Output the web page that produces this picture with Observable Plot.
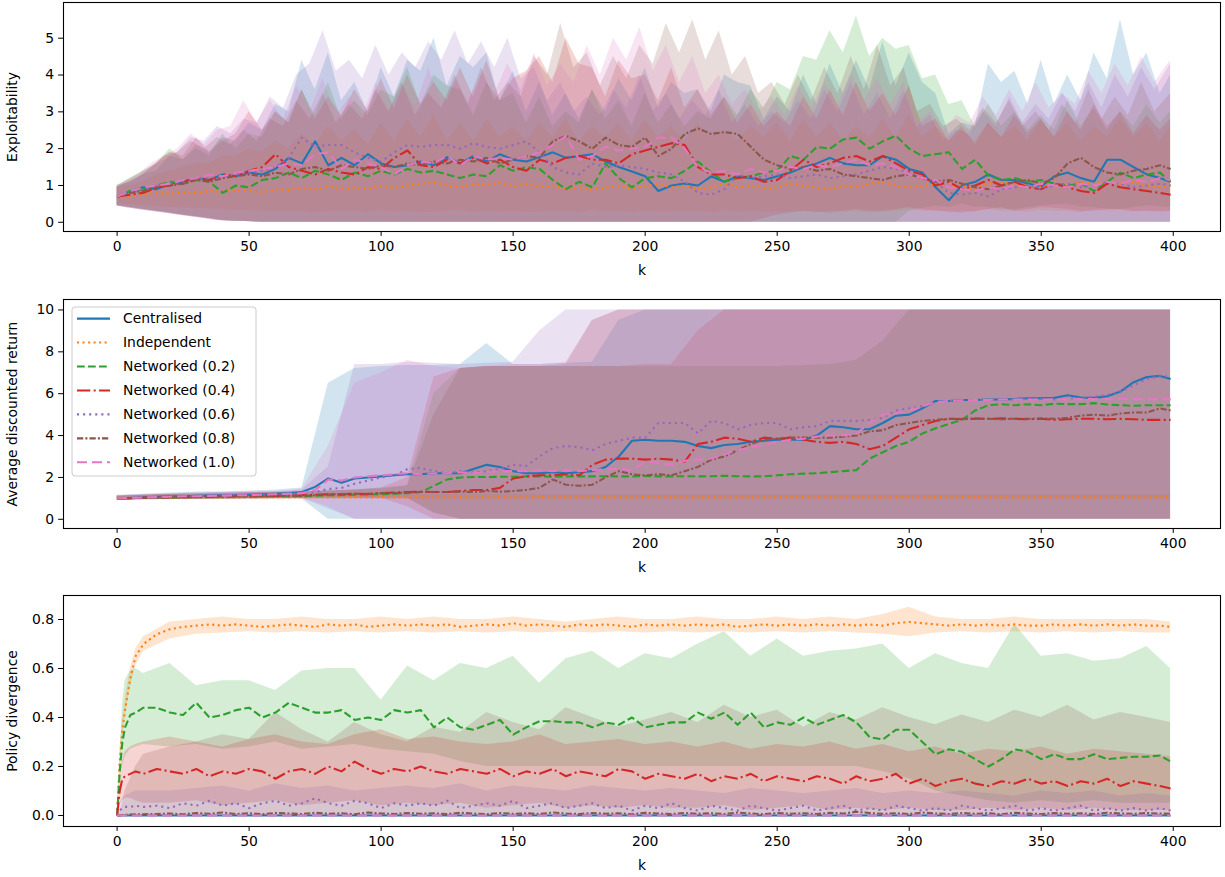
<!DOCTYPE html>
<html>
<head>
<meta charset="utf-8">
<script src="https://cdn.jsdelivr.net/npm/d3@7"></script>
<script src="https://cdn.jsdelivr.net/npm/@observablehq/plot@0.6"></script>
<style>
  html, body { margin: 0; padding: 0; background: white; }
  #wrap { position: relative; width: 1225px; height: 877px; overflow: hidden; }
  #wrap svg.plot { display: block; }
</style>
</head>
<body>
<div id="wrap"></div>
<script>
// ---------------- categories ----------------
const SERIES = ["Centralised", "Independent", "Networked (0.2)", "Networked (0.4)", "Networked (0.6)", "Networked (0.8)", "Networked (1.0)"];

// ---------------- x grids (k) ----------------
const K5 = [0,5,10,15,20,25,30,35,40,45,50,55,60,65,70,75,80,85,90,95,100,105,110,115,120,125,130,135,140,145,150,155,160,165,170,175,180,185,190,195,200,205,210,215,220,225,230,235,240,245,250,255,260,265,270,275,280,285,290,295,300,305,310,315,320,325,330,335,340,345,350,355,360,365,370,375,380,385,390,395,399];
const K5S = [0,3,8,13,18,23,28,33,38,43,48,53,58,63,68,73,78,83,88,93,98,103,108,113,118,123,128,133,138,143,148,153,158,163,168,173,178,183,188,193,198,203,208,213,218,223,228,233,238,243,248,253,258,263,268,273,278,283,288,293,298,303,308,313,318,323,328,333,338,343,348,353,358,363,368,373,378,383,388,393,399];
const K10 = [0,10,20,30,40,50,60,70,80,90,100,110,120,130,140,150,160,170,180,190,200,210,220,230,240,250,260,270,280,290,300,310,320,330,340,350,360,370,380,390,399];
const K3L = [0,1,2,3,5,7,10,15,20,25,30,35,40,45,50,55,60,65,70,75,80,85,90,95,100,105,110,115,120,125,130,135,140,145,150,155,160,165,170,175,180,185,190,195,200,205,210,215,220,225,230,235,240,245,250,255,260,265,270,275,280,285,290,295,300,305,310,315,320,325,330,335,340,345,350,355,360,365,370,375,380,385,390,395,399];
const K3B = [0,1,2,3,5,7,10,20,30,40,50,60,70,80,90,100,110,120,130,140,150,160,170,180,190,200,210,220,230,240,250,260,270,280,290,300,310,320,330,340,350,360,370,380,390,399];

// ---------------- tick labels ----------------
const X_TICKS = [0,50,100,150,200,250,300,350,400];
const Y1_TICKS = [0,1,2,3,4,5];
const Y2_TICKS = [0,2,4,6,8,10];
const Y3_TICKS = [0.0,0.2,0.4,0.6,0.8];

// ================= Panel 1: Exploitability (means on K5) =================
const P1_CENTRALISED = [.68,.85,.95,.9,1.05,1.1,1.2,1.15,1.3,1.25,
 1.35,1.3,1.45,1.75,1.6,2.2,1.55,1.75,1.55,1.85,
 1.6,1.5,1.55,1.65,1.55,1.77,1.6,1.8,1.65,1.85,
 1.7,1.65,1.77,1.9,1.75,1.8,1.85,1.65,1.5,1.38,
 1.25,.85,1.0,1.05,1.0,1.25,1.1,1.25,1.2,1.15,
 1.25,1.35,1.5,1.6,1.75,1.6,1.55,1.55,1.8,1.7,
 1.45,1.35,.95,.6,1.0,1.1,1.3,1.15,1.15,1.05,
 .97,1.25,1.35,1.2,1.1,1.7,1.7,1.5,1.3,1.2,
 1.1];
const P1_INDEPENDENT = [.68,.72,.75,.8,.78,.82,.8,.85,.83,.88,
 .85,.82,.9,.88,.95,.9,.98,.92,.95,.9,
 1.0,.93,1.0,1.05,1.1,1.0,.95,1.05,1.0,1.08,
 .98,1.05,.95,1.0,.9,.95,.88,.95,1.0,.92,
 .98,1.05,.95,1.0,.9,.95,1.05,.98,1.0,.92,
 .95,1.05,1.0,.95,.9,1.0,.95,1.05,1.1,1.0,
 .95,.98,1.05,.95,1.0,.9,1.05,1.1,1.05,1.0,
 .95,1.05,1.0,1.1,1.05,1.1,1.05,1.1,1.0,.95,
 1.0];
const P1_NET02 = [.7,.85,.9,1.0,1.1,1.05,1.15,1.1,.8,1.0,
 .95,1.15,1.2,1.35,1.2,1.4,1.3,1.15,1.35,1.25,
 1.4,1.3,1.45,1.35,1.4,1.3,1.2,1.3,1.25,1.55,
 1.4,1.5,1.45,1.15,.9,1.1,.95,1.6,1.2,.95,
 1.2,1.25,1.2,1.4,1.65,1.35,1.1,1.2,1.25,1.35,
 1.4,1.8,1.7,2.05,2.0,2.25,2.3,2.0,2.2,2.35,
 2.0,1.8,1.85,1.9,1.45,1.7,1.27,1.15,1.2,1.1,
 1.15,1.05,1.0,1.05,.85,1.1,1.35,1.2,1.3,1.35,
 1.1];
const P1_NET04 = [.7,.75,.8,.95,1.0,1.1,1.2,1.15,1.3,1.25,
 1.4,1.5,1.85,1.5,1.4,1.3,1.45,1.35,1.3,1.5,
 1.45,1.75,1.95,1.55,1.5,1.7,1.6,1.75,1.6,1.7,
 1.5,1.4,1.7,1.6,1.75,1.8,1.7,1.7,1.6,1.85,
 1.95,2.05,2.15,2.1,1.5,1.3,1.3,1.2,1.25,1.1,
 1.15,1.4,1.7,1.5,1.6,1.75,1.8,1.65,1.8,1.6,
 1.4,1.3,1.0,1.1,.9,1.0,1.15,1.0,1.1,.95,
 .9,1.05,.95,.85,.8,1.05,.95,.9,.85,.8,
 .75];
const P1_NET06 = [.7,.8,.9,1.0,1.05,1.1,1.15,1.2,1.25,1.3,
 1.35,1.4,1.5,1.75,2.3,2.05,2.1,2.1,1.9,1.75,
 1.65,1.9,2.1,2.05,2.1,2.1,2.0,2.15,2.05,2.0,
 2.1,2.2,1.9,1.5,1.35,1.3,1.6,1.5,1.55,1.5,
 1.45,1.35,1.3,1.1,.8,.75,.9,1.3,1.2,1.25,
 1.3,1.2,1.25,1.3,1.2,1.25,1.3,1.4,1.5,1.45,
 1.35,1.2,1.1,.8,.75,.8,.7,.9,.95,1.0,
 .9,1.0,1.05,.95,1.0,1.1,1.05,.95,1.0,1.05,
 1.0];
const P1_NET08 = [.7,.8,.85,.95,1.0,1.05,1.15,1.1,1.2,1.25,
 1.3,1.25,1.35,1.3,1.45,1.5,1.4,1.55,1.5,1.45,
 1.55,1.5,1.6,1.55,1.65,1.6,1.7,1.65,1.75,1.6,
 1.7,1.8,1.75,2.2,2.35,2.2,2.0,2.3,2.1,2.05,
 2.3,1.8,2.0,2.4,2.55,2.4,2.45,2.4,2.05,1.7,
 1.55,1.45,1.5,1.4,1.45,1.3,1.25,1.2,1.15,1.25,
 1.3,1.2,1.1,1.15,1.05,.95,.9,1.0,1.1,1.15,
 1.05,1.2,1.6,1.75,1.5,1.35,1.3,1.4,1.45,1.55,
 1.45];
const P1_NET10 = [.7,.85,.95,1.0,1.05,1.15,1.2,1.3,1.25,1.35,
 1.4,1.45,1.5,1.6,1.55,1.85,1.9,1.45,1.7,1.6,
 1.5,1.3,1.55,1.65,1.6,1.8,1.55,1.8,1.7,1.75,
 1.7,1.8,1.9,2.1,2.35,1.7,1.8,2.05,1.95,2.0,
 2.05,2.3,2.3,2.0,1.5,1.35,1.4,1.3,1.45,1.35,
 1.4,1.5,1.45,1.55,1.5,1.6,1.7,1.55,1.6,1.5,
 1.3,1.2,1.15,.95,.9,.85,.95,.9,1.0,.95,
 1.05,1.0,.95,1.05,1.0,1.1,1.05,1.15,1.1,1.2,
 1.15];

// Panel 1 bands (blue/orange/green/red on K5; purple/brown/pink on K5S)
const P1_HI_CENTRALISED = [1.0,1.1,1.3,1.4,1.8,1.7,2.1,1.9,2.3,2.2,
 2.7,2.5,3.2,3.0,4.4,3.6,4.6,3.3,3.8,3.0,
 4.2,3.4,4.4,4.1,5.0,3.7,4.5,4.2,4.6,3.3,
 4.1,3.0,3.8,2.9,3.5,2.8,3.6,3.0,3.9,3.3,
 4.2,3.1,3.8,3.5,3.6,3.0,4.0,3.8,3.7,2.8,
 3.4,3.0,4.0,3.2,4.3,3.5,4.4,3.6,4.9,3.7,
 4.6,3.8,3.5,2.4,2.7,2.6,4.3,3.8,4.1,3.2,
 4.4,3.2,4.0,3.3,4.6,3.9,5.5,4.0,4.6,3.5,
 4.0];
const P1_HI_INDEPENDENT = [0.95,1.0,1.1,1.3,1.4,1.5,1.6,1.6,1.8,1.8,
 2.0,1.9,2.2,2.0,2.4,2.1,2.6,2.2,2.5,2.1,
 2.7,2.2,2.8,2.3,2.9,2.2,2.7,2.2,2.8,2.3,
 2.6,2.2,2.7,2.3,2.8,2.2,2.6,2.3,2.7,2.2,
 2.8,2.3,2.6,2.2,2.7,2.3,2.5,2.2,2.6,2.3,
 2.7,2.2,2.8,2.3,2.7,2.2,2.6,2.3,2.8,2.3,
 2.9,2.3,2.6,2.2,2.5,2.2,2.7,2.3,2.6,2.2,
 2.8,2.3,2.7,2.2,2.6,2.3,2.8,2.3,2.7,2.2,
 2.6];
const P1_HI_NET02 = [1.0,1.2,1.4,1.6,2.0,1.7,2.0,1.8,2.4,2.0,
 2.4,2.3,3.0,2.7,3.6,2.9,3.8,2.8,3.3,2.9,
 3.6,3.4,4.2,3.2,4.0,3.7,3.6,2.9,3.8,3.3,
 3.5,2.7,3.4,2.6,3.0,2.7,3.6,2.8,3.3,2.6,
 3.5,2.7,3.2,2.6,3.0,2.8,3.4,2.9,3.6,3.1,
 3.8,3.6,4.5,4.4,5.2,4.6,5.6,4.5,5.0,4.7,
 4.8,3.9,4.0,3.2,3.3,2.6,3.2,2.6,3.0,2.5,
 2.9,2.5,3.3,2.6,3.1,2.5,3.0,2.6,3.2,2.7,
 3.0];
const P1_HI_NET04 = [0.95,1.1,1.3,1.6,1.9,1.8,2.3,1.9,2.2,2.4,
 3.0,2.5,3.0,2.7,3.6,2.8,3.4,2.9,3.6,3.0,
 3.9,3.1,4.0,3.2,3.8,3.3,4.2,3.4,4.4,3.3,
 3.9,4.1,4.5,3.8,5.0,4.3,4.2,3.4,4.4,3.9,
 4.0,3.3,4.2,3.1,3.6,2.9,3.4,2.7,3.2,2.6,
 3.0,2.6,3.4,2.8,3.6,2.9,3.8,3.0,3.5,2.9,
 3.7,2.6,2.8,2.2,2.6,2.1,2.7,2.3,2.9,2.4,
 2.8,2.3,3.0,2.5,3.2,2.6,3.0,2.4,2.9,2.5,
 2.8];
const P1_HI_NET06 = [0.95,1.05,1.2,1.5,1.7,1.9,2.3,2.2,2.6,2.4,
 2.8,2.7,3.4,3.1,4.0,4.3,5.2,4.1,4.4,3.9,
 4.8,4.0,4.6,4.2,4.9,4.4,5.2,4.3,4.9,4.2,
 5.0,3.9,4.2,3.3,3.8,3.0,3.4,2.9,3.6,3.1,
 4.0,3.0,3.5,2.8,3.3,2.9,3.6,2.7,3.2,2.6,
 3.0,2.7,3.3,2.8,3.6,3.0,3.8,2.9,3.5,2.8,
 3.6,2.6,2.9,2.2,2.5,2.4,3.0,2.6,3.4,2.7,
 3.2,2.8,3.5,3.0,3.8,3.1,4.0,3.4,4.2,3.6,
 4.3];
const P1_HI_NET08 = [0.95,1.1,1.3,1.5,1.8,1.9,2.2,2.0,2.3,2.1,
 2.5,2.2,2.8,2.6,3.3,2.8,3.5,2.7,3.2,2.8,
 3.6,3.0,3.8,2.9,3.5,3.1,4.0,3.2,4.2,3.3,
 3.8,3.4,4.5,4.0,5.4,4.2,4.6,3.7,4.5,3.9,
 4.8,4.3,5.4,4.6,5.5,4.4,5.2,4.0,4.5,3.5,
 3.8,3.2,4.0,3.3,4.2,3.5,4.5,3.6,4.8,3.7,
 4.2,3.0,3.2,2.6,2.8,2.5,3.1,2.7,3.3,2.6,
 3.0,2.5,3.2,2.7,3.6,2.8,3.4,2.9,3.8,3.0,
 3.5];
const P1_HI_NET10 = [1.0,1.1,1.3,1.6,1.8,2.0,2.4,2.1,2.5,2.6,
 3.3,2.7,3.3,2.8,3.7,3.0,3.9,2.9,3.4,2.9,
 3.8,3.0,3.7,3.1,4.2,3.2,3.8,3.3,4.0,3.5,
 4.3,3.6,4.6,3.7,4.3,3.8,4.8,4.0,5.0,4.4,
 5.3,4.1,4.8,3.8,4.5,3.5,4.0,3.2,3.6,3.0,
 3.4,2.9,3.7,3.1,3.8,3.2,4.0,3.3,3.9,3.2,
 3.8,2.7,3.0,2.5,2.9,2.7,3.4,2.9,3.6,3.0,
 3.8,3.1,3.5,3.2,4.1,3.5,4.3,3.7,4.5,3.8,
 4.4];
const P1_LO_COMMON = [.45,.4,.35,.3,.25,.2,.15,.1,.05,.03,
 .02,0,0,0,0,0,0,0,0,0,
 0,0,0,0,0,0,0,0,0,0,
 0,0,0,0,0,0,0,0,0,0,
 0,0,0,0,0,0,0,0,0,0,
 0,0,0,0,0,0,0,0,0,0,
 0,0,0,0,0,0,0,0,0,0,
 0,0,0,0,0,0,0,0,0,0,
 0];
const P1_LO_INDEPENDENT = [.5,.48,.45,.42,.4,.39,.38,.36,.35,.33,
 .32,.3,.3,.28,.3,.26,.28,.3,.3,.27,
 .32,.28,.3,.26,.28,.3,.32,.27,.3,.28,
 .3,.26,.28,.3,.3,.27,.32,.28,.3,.26,
 .3,.28,.28,.3,.3,.26,.32,.28,.3,.27,
 .28,.3,.3,.26,.32,.28,.3,.27,.28,.3,
 .35,.3,.32,.28,.3,.27,.35,.3,.3,.28,
 .32,.3,.3,.26,.35,.3,.32,.28,.3,.27,
 .3];
const P1_LO_NET02 = [.45,.4,.35,.3,.25,.2,.15,.1,.05,.03,
 .02,0,0,0,0,0,0,0,0,0,
 0,0,0,0,0,0,0,0,0,0,
 0,0,0,0,0,0,0,0,0,0,
 0,0,0,0,0,0,0,0,0,0,
 0,0,0,0,0,0,0,0,0,0,
 .3,.38,.45,.4,.5,.42,.4,.35,.35,.4,
 .45,.48,.5,.42,.4,.36,.35,.4,.45,.42,
 .4];
const P1_LO_NET04 = [.45,.4,.35,.3,.25,.2,.15,.1,.05,.03,
 .02,0,0,0,0,0,0,0,0,0,
 0,0,0,0,0,0,0,0,0,0,
 0,0,0,0,0,0,0,0,0,0,
 0,0,0,0,0,0,0,0,0,.1,
 .2,.25,.3,.28,.25,.3,.35,.3,.3,.35,
 .4,.35,.3,.28,.25,.3,.35,.4,.3,.35,
 .4,.38,.35,.3,.3,.35,.35,.3,.3,.3,
 .3];

// ================= Panel 2: Average discounted return (means on K5) =================
const P2_CENTRALISED = [1.0,1.02,1.05,1.07,1.1,1.1,1.12,1.13,1.15,1.15,
 1.17,1.2,1.22,1.25,1.3,1.55,1.95,1.75,1.95,2.0,
 2.05,2.1,2.15,2.15,2.2,2.2,2.2,2.4,2.6,2.5,
 2.3,2.2,2.2,2.25,2.2,2.25,2.3,2.5,3.0,3.75,
 3.8,3.75,3.75,3.7,3.5,3.4,3.55,3.6,3.7,3.75,
 3.8,3.8,3.8,4.0,4.45,4.4,4.3,4.3,4.6,4.95,
 5.0,5.3,5.65,5.65,5.7,5.7,5.72,5.72,5.75,5.78,
 5.78,5.8,5.93,5.82,5.8,5.88,6.1,6.55,6.8,6.85,
 6.7];
const P2_INDEPENDENT = [1.0,1.01,1.02,1.03,1.04,1.04,1.05,1.05,1.05,1.05,
 1.05,1.05,1.06,1.05,1.05,1.06,1.05,1.05,1.06,1.05,
 1.06,1.05,1.05,1.06,1.05,1.05,1.06,1.05,1.05,1.06,
 1.05,1.05,1.06,1.05,1.06,1.05,1.05,1.06,1.05,1.05,
 1.06,1.05,1.06,1.05,1.05,1.06,1.05,1.05,1.06,1.05,
 1.05,1.06,1.05,1.05,1.06,1.05,1.06,1.05,1.05,1.06,
 1.05,1.05,1.06,1.05,1.05,1.06,1.05,1.06,1.05,1.05,
 1.06,1.05,1.05,1.06,1.05,1.05,1.06,1.05,1.05,1.06,
 1.06];
const P2_NET02 = [1.0,1.01,1.02,1.03,1.04,1.05,1.06,1.07,1.08,1.09,
 1.09,1.1,1.1,1.1,1.1,1.12,1.15,1.15,1.18,1.2,
 1.2,1.22,1.25,1.3,1.6,1.9,2.0,2.02,2.02,2.03,
 2.03,2.05,2.05,2.03,2.05,2.05,2.05,2.06,2.05,2.05,
 2.07,2.05,2.05,2.06,2.05,2.06,2.08,2.06,2.05,2.05,
 2.1,2.15,2.18,2.2,2.25,2.3,2.35,2.9,3.2,3.5,
 3.7,4.1,4.35,4.55,4.75,5.2,5.45,5.5,5.45,5.5,
 5.45,5.52,5.5,5.5,5.55,5.48,5.45,5.42,5.45,5.45,
 5.45];
const P2_NET04 = [1.0,1.01,1.03,1.04,1.05,1.06,1.07,1.08,1.09,1.1,
 1.1,1.11,1.12,1.13,1.15,1.17,1.2,1.2,1.22,1.2,
 1.25,1.28,1.3,1.32,1.3,1.3,1.35,1.4,1.4,1.5,
 1.95,2.05,2.1,2.1,2.15,2.1,2.6,2.85,2.9,2.9,
 2.85,2.9,2.85,2.75,3.6,3.7,3.9,3.85,3.7,3.9,
 3.85,3.9,3.8,3.7,3.65,3.7,3.6,3.35,3.5,3.9,
 4.3,4.5,4.7,4.8,4.78,4.8,4.8,4.82,4.8,4.78,
 4.8,4.75,4.78,4.8,4.8,4.78,4.8,4.78,4.75,4.75,
 4.75];
const P2_NET06 = [1.0,1.02,1.04,1.06,1.08,1.1,1.1,1.12,1.13,1.15,
 1.15,1.17,1.2,1.22,1.25,1.3,1.45,1.5,1.7,1.85,
 2.0,2.1,2.4,2.45,2.3,2.2,2.3,2.25,2.3,2.4,
 2.6,2.55,3.0,3.4,3.5,3.45,3.3,3.6,3.75,3.9,
 3.9,4.6,4.6,4.6,4.1,4.7,4.6,4.3,4.5,4.6,
 4.6,4.3,4.4,4.45,4.7,4.7,4.7,4.75,4.85,5.2,
 5.3,5.4,5.6,5.65,5.7,5.7,5.7,5.72,5.72,5.75,
 5.75,5.72,5.75,5.8,5.85,5.95,6.1,6.4,6.7,6.85,
 6.8];
const P2_NET08 = [1.0,1.01,1.03,1.04,1.05,1.06,1.07,1.08,1.09,1.1,
 1.1,1.1,1.11,1.12,1.12,1.15,1.2,1.2,1.22,1.22,
 1.25,1.25,1.28,1.3,1.3,1.3,1.32,1.3,1.35,1.32,
 1.35,1.4,1.5,1.9,1.65,1.6,1.65,2.0,2.3,2.15,
 2.1,2.15,2.1,2.3,2.5,2.85,3.0,3.3,3.6,3.8,
 3.85,3.9,3.9,3.9,3.9,3.95,4.0,4.2,4.25,4.5,
 4.6,4.7,4.75,4.8,4.8,4.82,4.8,4.78,4.8,4.8,
 4.82,4.8,4.85,4.95,5.0,4.95,5.05,5.1,5.1,5.3,
 5.2];
const P2_NET10 = [1.0,1.02,1.04,1.06,1.08,1.1,1.1,1.12,1.13,1.15,
 1.15,1.17,1.2,1.22,1.25,1.4,1.9,1.85,2.0,2.05,
 2.1,2.15,2.2,2.15,2.2,2.2,2.25,2.2,2.25,2.3,
 2.3,2.3,2.35,2.3,2.35,2.3,2.35,2.4,2.4,2.35,
 2.75,2.7,2.6,2.8,2.85,2.9,3.1,3.3,3.45,3.55,
 3.7,3.8,3.85,3.95,4.0,4.0,4.1,4.6,5.0,5.05,
 5.2,5.4,5.6,5.65,5.68,5.7,5.7,5.72,5.72,5.72,
 5.72,5.73,5.73,5.74,5.74,5.75,5.75,5.75,5.74,5.74,
 5.74];

// Panel 2 bands (K10)
const P2_HI_CENTRALISED = [1.15,1.2,1.25,1.3,1.32,1.35,1.4,1.5,6.5,7.2, 7.3,7.35,7.35,7.4,8.4,7.4,7.4,7.45,7.5,9.5, 10,10,10,10,10,10,10,10,10,10, 10,10,10,10,10,10,10,10,10,10, 10];
const P2_LO_CENTRALISED = [.9,.92,.95,.95,.96,.97,.97,.97,0,0, 0,0,0,0,0,0,0,0,0,0, 0,0,0,0,0,0,0,0,0,0, 0,0,0,0,0,0,0,0,0,0, 0];
const P2_HI_INDEPENDENT = [1.1,1.12,1.14,1.15,1.16,1.16,1.17,1.17,1.17,1.18, 1.17,1.18,1.17,1.17,1.18,1.17,1.18,1.17,1.17,1.18, 1.17,1.18,1.17,1.17,1.18,1.17,1.18,1.17,1.17,1.18, 1.17,1.18,1.17,1.17,1.18,1.17,1.18,1.17,1.17,1.18, 1.17];
const P2_LO_INDEPENDENT = [.9,.92,.93,.94,.95,.95,.95,.95,.94,.95, .95,.94,.95,.95,.94,.95,.95,.94,.95,.95, .94,.95,.95,.94,.95,.95,.94,.95,.95,.94, .95,.95,.94,.95,.95,.94,.95,.95,.94,.95, .95];
const P2_HI_NET02 = [1.1,1.15,1.18,1.2,1.22,1.25,1.28,1.3,1.35,1.4, 1.5,1.6,6.0,7.2,7.3,7.3,7.3,7.3,7.3,7.3, 7.3,7.3,7.3,7.3,7.3,7.3,7.35,7.4,7.6,8.5, 10,10,10,10,10,10,10,10,10,10, 10];
const P2_LO_NET02 = [.92,.94,.95,.96,.97,.98,.99,1.0,1.0,1.0, 1.0,1.0,.3,0,0,0,0,0,0,0, 0,0,0,0,0,0,0,0,0,0, 0,0,0,0,0,0,0,0,0,0, 0];
const P2_HI_NET04 = [1.1,1.15,1.2,1.22,1.25,1.28,1.3,1.3,1.35,1.4, 1.5,2.0,6.8,7.2,7.3,7.3,7.3,7.3,7.3,7.3, 7.4,7.4,9.0,10,10,10,10,10,10,10, 10,10,10,10,10,10,10,10,10,10, 10];
const P2_LO_NET04 = [.92,.94,.95,.96,.97,.98,.99,1.0,1.0,1.0, 1.0,.6,0,0,0,0,0,0,0,0, 0,0,0,0,0,0,0,0,0,0, 0,0,0,0,0,0,0,0,0,0, 0];
const P2_HI_NET06 = [1.12,1.18,1.22,1.25,1.28,1.3,1.32,1.4,2.5,7.4, 7.4,7.5,7.45,7.4,7.45,7.5,9.0,10,10,10, 10,10,10,10,10,10,10,10,10,10, 10,10,10,10,10,10,10,10,10,10, 10];
const P2_LO_NET06 = [.92,.94,.96,.97,.98,.99,1.0,1.0,.5,0, 0,0,0,0,0,0,0,0,0,0, 0,0,0,0,0,0,0,0,0,0, 0,0,0,0,0,0,0,0,0,0, 0];
const P2_HI_NET08 = [1.1,1.15,1.18,1.2,1.22,1.25,1.28,1.3,1.35,1.4, 1.45,1.6,5.0,7.2,7.3,7.3,7.3,7.4,9.5,10, 10,10,10,10,10,10,10,10,10,10, 10,10,10,10,10,10,10,10,10,10, 10];
const P2_LO_NET08 = [.92,.94,.95,.96,.97,.98,.99,1.0,1.0,1.0, 1.0,1.0,.3,0,0,0,0,0,0,0, 0,0,0,0,0,0,0,0,0,0, 0,0,0,0,0,0,0,0,0,0, 0];
const P2_HI_NET10 = [1.12,1.17,1.2,1.25,1.28,1.3,1.32,1.45,3.5,6.5, 7.0,7.6,7.3,7.2,7.3,7.4,7.4,7.5,9.5,10, 10,10,10,10,10,10,10,10,10,10, 10,10,10,10,10,10,10,10,10,10, 10];
const P2_LO_NET10 = [.92,.94,.96,.97,.98,.99,1.0,1.0,.6,0, 0,0,0,0,0,0,0,0,0,0, 0,0,0,0,0,0,0,0,0,0, 0,0,0,0,0,0,0,0,0,0, 0];

// ================= Panel 3: Policy divergence (means on K3L) =================
const P3_CENTRALISED = [0,0,0,0,0,0,0,
 0,0,0,0,0,0,0,0,0,0, 0,0,0,0,0,0,0,0,0,0, 0,0,0,0,0,0,0,0,0,0, 0,0,0,0,0,0,0,0,0,0,
 0,0,0,0,0,0,0,0,0,0, 0,0,0,0,0,0,0,0,0,0, 0,0,0,0,0,0,0,0,0,0, 0,0,0,0,0,0,0, 0];
const P3_INDEPENDENT = [0,.22,.35,.43,.56,.65,.7,
 .74,.76,.77,.775,.78,.775,.78,.775,.77,.775,
 .78,.775,.77,.78,.775,.78,.77,.775,.78,.775,
 .78,.775,.78,.77,.775,.78,.775,.785,.775,.78,
 .775,.77,.78,.775,.78,.775,.77,.78,.775,.78,
 .775,.78,.775,.78,.77,.775,.78,.775,.78,.775,
 .78,.775,.78,.775,.78,.775,.785,.79,.785,.78,
 .775,.78,.775,.78,.775,.78,.775,.775,.78,.775,
 .78,.775,.78,.775,.78,.775,.775,
 .77];
const P3_NET02 = [0,.18,.3,.36,.41,.42,.44,
 .44,.42,.41,.46,.4,.41,.43,.44,.4,.42,
 .46,.44,.42,.42,.43,.39,.4,.39,.43,.42,
 .43,.36,.4,.36,.35,.37,.39,.33,.36,.385,
 .385,.38,.38,.36,.38,.37,.4,.36,.37,.38,
 .38,.42,.395,.42,.37,.42,.36,.38,.37,.4,
 .37,.39,.41,.38,.32,.31,.35,.35,.3,.25,
 .27,.26,.23,.2,.23,.27,.26,.23,.25,.23,
 .23,.25,.23,.235,.24,.24,.245,
 .22];
const P3_NET04 = [0,.1,.15,.16,.17,.18,.17,
 .19,.18,.17,.19,.16,.18,.17,.19,.18,.15,
 .18,.19,.17,.2,.18,.22,.19,.17,.19,.18,
 .2,.18,.17,.19,.18,.17,.19,.16,.18,.17,
 .19,.16,.18,.17,.16,.19,.18,.15,.17,.16,
 .15,.17,.14,.16,.15,.17,.14,.16,.15,.14,
 .16,.15,.13,.16,.14,.15,.17,.13,.15,.12,
 .14,.15,.13,.12,.14,.13,.15,.13,.14,.12,
 .14,.13,.15,.12,.14,.13,.12,
 .11];
const P3_NET06 = [0,.02,.03,.035,.035,.04,.035,
 .04,.03,.05,.04,.06,.04,.05,.03,.05,.06,
 .04,.05,.07,.05,.04,.06,.05,.03,.05,.04,
 .05,.04,.06,.03,.04,.05,.04,.06,.03,.04,
 .05,.03,.04,.05,.03,.04,.02,.04,.03,.05,
 .03,.02,.04,.03,.02,.04,.03,.02,.03,.04,
 .02,.03,.04,.02,.03,.02,.04,.03,.02,.03,
 .02,.04,.03,.02,.03,.04,.02,.03,.02,.03,
 .04,.02,.03,.02,.03,.02,.03,
 .02];
const P3_NET08 = [0,0,.002,.003,.004,.005,.005,
 .006,.008,.005,.01,.007,.012,.006,.009,.005,.01,
 .008,.006,.011,.007,.009,.005,.012,.008,.006,.01,
 .007,.009,.006,.011,.008,.005,.01,.007,.009,.006,
 .012,.008,.006,.01,.007,.009,.005,.011,.008,.006,
 .01,.007,.009,.006,.012,.008,.005,.01,.007,.009,
 .006,.011,.008,.015,.01,.007,.009,.006,.012,.008,
 .006,.01,.007,.009,.005,.011,.008,.006,.01,.007,
 .009,.006,.011,.008,.007,.01,.008,
 .007];
const P3_NET10 = [0,0,0,0,0,0,0,
 0,0,0,0,0,0,0,0,0,0, 0,0,0,0,0,0,0,0,0,0, 0,0,0,0,0,0,0,0,0,0, 0,0,0,0,0,0,0,0,0,0,
 0,0,0,0,0,0,0,0,0,0, 0,0,0,0,0,0,0,0,0,0, 0,0,0,0,0,0,0,0,0,0, 0,0,0,0,0,0,0, 0];

// Panel 3 bands (K3B)
const P3_HI_INDEPENDENT = [0,.26,.39,.47,.6,.68,.73, .79,.8,.81,.8,.8,.81,.8,.8,.81,.8, .81,.8,.8,.81,.8,.79,.8,.81,.8,.8, .81,.8,.8,.81,.8,.81,.8,.82,.85,.81, .8,.8,.81,.8,.8,.8,.8,.8, .79];
const P3_LO_INDEPENDENT = [0,.18,.31,.39,.52,.61,.67, .72,.74,.745,.75,.745,.75,.745,.75,.745,.75, .745,.75,.745,.75,.745,.75,.745,.75,.745,.75, .745,.75,.745,.75,.745,.75,.745,.74,.73,.745, .75,.745,.75,.745,.75,.745,.75,.745, .745];
const P3_HI_NET02 = [0,.2,.45,.55,.59,.6,.58, .62,.53,.55,.55,.51,.59,.6,.6,.47,.61, .55,.62,.6,.65,.54,.64,.67,.6,.66,.64, .7,.75,.65,.72,.65,.67,.68,.7,.6,.66, .62,.6,.78,.65,.66,.63,.64,.69, .6];
const P3_LO_NET02 = [0,.15,.2,.24,.27,.28,.29, .28,.29,.27,.28,.3,.27,.28,.29,.27,.26, .25,.22,.2,.2,.2,.2,.2,.2,.2,.2, .2,.2,.2,.2,.2,.2,.2,.18,.15,.1, .08,.06,.05,.06,.05,.06,.05,.05, .05];
const P3_HI_NET04 = [0,.15,.22,.26,.28,.29,.3, .32,.3,.28,.31,.33,.3,.29,.33,.35,.31, .32,.3,.29,.3,.33,.29,.3,.31,.29,.3, .28,.3,.27,.29,.28,.3,.27,.29,.26,.28, .25,.27,.26,.28,.25,.27,.26,.25, .24];
const P3_LO_NET04 = [0,.04,.06,.07,.07,.06,.05, .05,.06,.04,.05,.06,.04,.05,.06,.04,.05, .04,.05,.03,.04,.05,.03,.04,.03,.04,.03, .03,.04,.02,.03,.04,.02,.03,.02,.03,.02, .02,.03,.02,.03,.02,.03,.02,.02, .02];
const P3_HI_NET06 = [0,.05,.07,.08,.09,.1,.1, .1,.11,.12,.1,.13,.11,.12,.1,.11,.12, .11,.13,.1,.12,.11,.1,.12,.11,.1,.11, .1,.09,.11,.1,.09,.1,.11,.09,.1,.09, .1,.09,.08,.1,.09,.1,.08,.09, .08];
const P3_LO_NET06 = [0,0,0,0,0,0,0, 0,0,0,0,0,0,0,0,0,0, 0,0,0,0,0,0,0,0,0,0, 0,0,0,0,0,0,0,0,0,0, 0,0,0,0,0,0,0,0, 0];
const P3_HI_NET08 = [0,.01,.05,.1,.15,.2,.25, .28,.3,.33,.31,.42,.35,.3,.38,.33,.3, .36,.34,.42,.38,.35,.44,.4,.36,.39,.42, .38,.45,.4,.43,.36,.42,.39,.44,.4,.37, .41,.38,.43,.4,.45,.39,.42,.4, .38];
const P3_LO_NET08 = [0,0,0,0,0,0,0, 0,0,0,0,0,0,0,0,0,0, 0,0,0,0,0,0,0,0,0,0, 0,0,0,0,0,0,0,0,0,0, 0,0,0,0,0,0,0,0, 0];

// ---------------- styles ----------------
const COLORS = ["#1f77b4", "#ff7f0e", "#2ca02c", "#d62728", "#9467bd", "#8c564b", "#e377c2"];
const DASHES = [null, "2.08,3.44", "7.7,3.33", "13.3,3.33,2.08,3.33", "2.08,4", "6.25,2.08,2.08,2.08", "10,5"];
const LINE_W = 2.08;
const FONT = "'DejaVu Sans', 'Liberation Sans', sans-serif";
const FONT_SIZE = 13.9;
const BAND_OPACITY = 0.2;

function rows(K, vals) { return K.map((k, j) => ({k, v: vals[j]})); }
function bandRows(K, lo, hi) { return K.map((k, j) => ({k, lo: lo[j], hi: hi[j]})); }

function panel(cfg) {
  const marks = [];
  for (const b of cfg.bands) {
    marks.push(Plot.areaY(bandRows(b.K || cfg.KB, b.lo, b.hi), {x: "k", y1: "lo", y2: "hi", fill: COLORS[b.i], fillOpacity: BAND_OPACITY, curve: "linear"}));
  }
  cfg.means.forEach((m, i) => {
    marks.push(Plot.lineY(rows(cfg.K, m), {x: "k", y: "v", stroke: COLORS[i], strokeWidth: LINE_W, strokeDasharray: DASHES[i], strokeLinecap: "butt", strokeLinejoin: "round"}));
  });
  marks.push(Plot.frame({stroke: "black", strokeWidth: 1.1}));
  marks.push(Plot.axisX({ticks: X_TICKS, tickSize: 4.9, tickPadding: 4.5, tickFormat: d3.format("d"), label: "k", labelAnchor: "center", labelArrow: "none", labelOffset: cfg.xLabelOffset, fontSize: FONT_SIZE}));
  marks.push(Plot.axisY({ticks: cfg.yTicks, tickSize: 4.9, tickPadding: 4.5, tickFormat: cfg.yFormat, label: cfg.ylabel, labelAnchor: "center", labelArrow: "none", labelOffset: 56, fontSize: FONT_SIZE}));
  const svg = Plot.plot({
    width: 1225, height: cfg.height,
    marginLeft: 63, marginRight: 5, marginTop: cfg.mt, marginBottom: cfg.mb,
    x: {domain: [-20.3, 417.9]},
    y: {domain: cfg.yDomain},
    style: {fontFamily: FONT, fontSize: FONT_SIZE + "px", color: "black", background: "white", overflow: "visible"},
    marks
  });
  svg.classList.add("plot");
  return svg;
}

const wrap = document.getElementById("wrap");

wrap.appendChild(panel({
  K: K5, KB: K5, height: 295, mt: 2, mb: 64, xLabelOffset: 43,
  yDomain: [-0.25, 5.97], yTicks: Y1_TICKS, yFormat: d3.format("d"), ylabel: "Exploitability",
  means: [P1_CENTRALISED, P1_INDEPENDENT, P1_NET02, P1_NET04, P1_NET06, P1_NET08, P1_NET10],
  bands: [
    {i: 0, lo: P1_LO_COMMON, hi: P1_HI_CENTRALISED},
    {i: 1, lo: P1_LO_INDEPENDENT, hi: P1_HI_INDEPENDENT},
    {i: 2, lo: P1_LO_NET02, hi: P1_HI_NET02},
    {i: 3, lo: P1_LO_NET04, hi: P1_HI_NET04},
    {i: 4, lo: P1_LO_COMMON, hi: P1_HI_NET06, K: K5S},
    {i: 5, lo: P1_LO_COMMON, hi: P1_HI_NET08, K: K5S},
    {i: 6, lo: P1_LO_COMMON, hi: P1_HI_NET10, K: K5S}
  ]
}));

wrap.appendChild(panel({
  K: K5, KB: K10, height: 295, mt: 4, mb: 62, xLabelOffset: 43,
  yDomain: [-0.44, 10.5], yTicks: Y2_TICKS, yFormat: d3.format("d"), ylabel: "Average discounted return",
  means: [P2_CENTRALISED, P2_INDEPENDENT, P2_NET02, P2_NET04, P2_NET06, P2_NET08, P2_NET10],
  bands: [
    {i: 0, lo: P2_LO_CENTRALISED, hi: P2_HI_CENTRALISED},
    {i: 1, lo: P2_LO_INDEPENDENT, hi: P2_HI_INDEPENDENT},
    {i: 2, lo: P2_LO_NET02, hi: P2_HI_NET02},
    {i: 3, lo: P2_LO_NET04, hi: P2_HI_NET04},
    {i: 4, lo: P2_LO_NET06, hi: P2_HI_NET06},
    {i: 5, lo: P2_LO_NET08, hi: P2_HI_NET08},
    {i: 6, lo: P2_LO_NET10, hi: P2_HI_NET10}
  ]
}));

wrap.appendChild(panel({
  K: K3L, KB: K3B, height: 287, mt: 5, mb: 51, xLabelOffset: 43,
  yDomain: [-0.045, 0.898], yTicks: Y3_TICKS, yFormat: d3.format(".1f"), ylabel: "Policy divergence",
  means: [P3_CENTRALISED, P3_INDEPENDENT, P3_NET02, P3_NET04, P3_NET06, P3_NET08, P3_NET10],
  bands: [
    {i: 1, lo: P3_LO_INDEPENDENT, hi: P3_HI_INDEPENDENT},
    {i: 2, lo: P3_LO_NET02, hi: P3_HI_NET02},
    {i: 3, lo: P3_LO_NET04, hi: P3_HI_NET04},
    {i: 4, lo: P3_LO_NET06, hi: P3_HI_NET06},
    {i: 5, lo: P3_LO_NET08, hi: P3_HI_NET08}
  ]
}));

// ---------------- legend (inside panel 2, upper left) ----------------
(function legend() {
  const W = 184, H = 169;
  const ns = "http://www.w3.org/2000/svg";
  const svg = document.createElementNS(ns, "svg");
  svg.setAttribute("width", W + 2);
  svg.setAttribute("height", H + 2);
  svg.style.position = "absolute";
  svg.style.left = "71px";
  svg.style.top = "306px";
  const rect = document.createElementNS(ns, "rect");
  rect.setAttribute("x", 1); rect.setAttribute("y", 1);
  rect.setAttribute("width", W); rect.setAttribute("height", H);
  rect.setAttribute("rx", 3);
  rect.setAttribute("fill", "white"); rect.setAttribute("fill-opacity", 0.8);
  rect.setAttribute("stroke", "#cccccc"); rect.setAttribute("stroke-width", 1);
  svg.appendChild(rect);
  SERIES.forEach((name, i) => {
    const y = 12.6 + 23.95 * i;
    const ln = document.createElementNS(ns, "line");
    ln.setAttribute("x1", 6); ln.setAttribute("x2", 39);
    ln.setAttribute("y1", y); ln.setAttribute("y2", y);
    ln.setAttribute("stroke", COLORS[i]); ln.setAttribute("stroke-width", LINE_W);
    if (DASHES[i]) ln.setAttribute("stroke-dasharray", DASHES[i]);
    svg.appendChild(ln);
    const t = document.createElementNS(ns, "text");
    t.setAttribute("x", 52); t.setAttribute("y", y);
    t.setAttribute("dy", "0.35em");
    t.setAttribute("font-family", FONT);
    t.setAttribute("font-size", FONT_SIZE);
    t.setAttribute("fill", "black");
    t.textContent = name;
    svg.appendChild(t);
  });
  wrap.appendChild(svg);
})();
</script>
</body>
</html>
